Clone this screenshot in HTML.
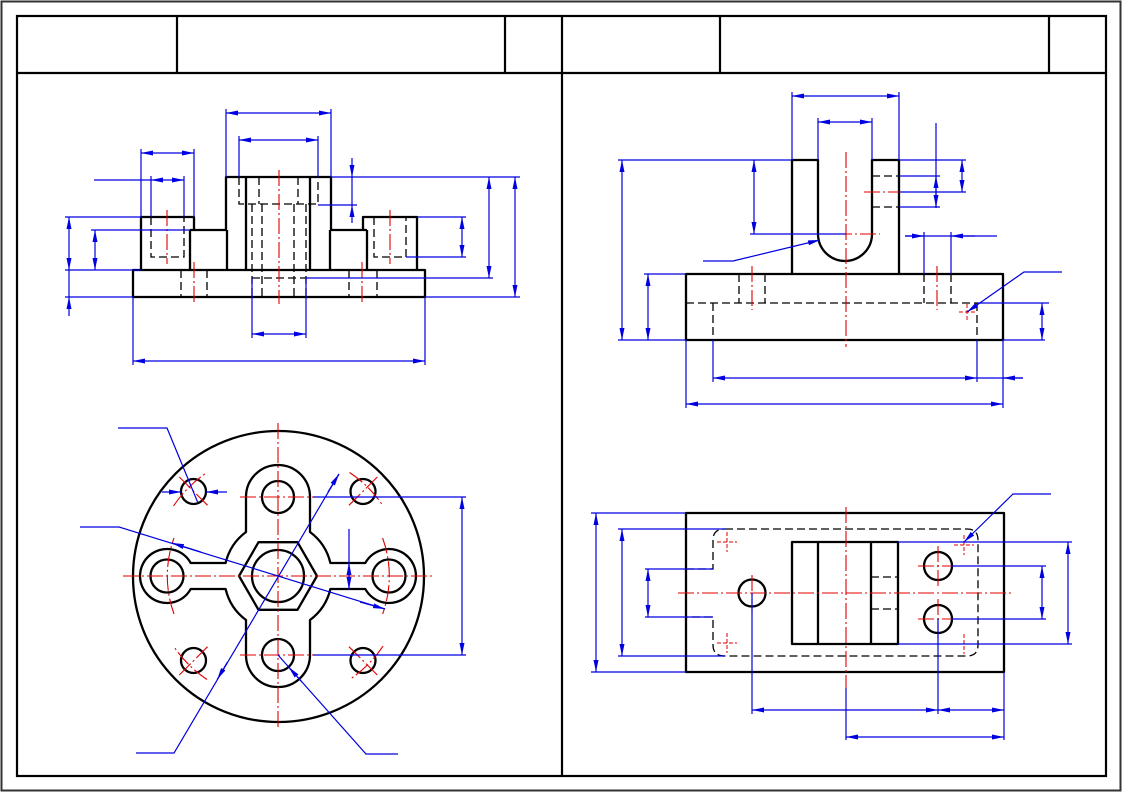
<!DOCTYPE html>
<html><head><meta charset="utf-8"><style>
html,body{margin:0;padding:0;background:#fff;}
svg{display:block;}
.k{stroke:#000;stroke-width:2.3;fill:none;stroke-linejoin:round}
.f{stroke:#000;stroke-width:2.2;fill:none}
.h{stroke:#000;stroke-width:1.3;stroke-dasharray:8 4;fill:none}
.c{stroke:#e00000;stroke-width:1.1;stroke-dasharray:16 3 2 3;fill:none}
.cs{stroke:#e00000;stroke-width:1;stroke-dasharray:4 2;fill:none}
.b{stroke:#0000e0;stroke-width:1.2;fill:none}
.ba{marker-start:url(#ar);marker-end:url(#ar)}
.be{marker-end:url(#ar)}
</style></head><body>
<svg width="1123" height="793" viewBox="0 0 1123 793" xmlns="http://www.w3.org/2000/svg">
<defs>
<marker id="ar" viewBox="0 0 12 5" refX="12" refY="2.5" markerWidth="12" markerHeight="5" markerUnits="userSpaceOnUse" orient="auto-start-reverse"><path d="M0,0L12,2.5L0,5z" fill="#0000e0"/></marker>
</defs>
<rect x="0" y="0" width="1123" height="793" fill="#fff"/>
<!-- frame -->
<rect x="1.5" y="1.5" width="1119" height="789" fill="none" stroke="#333" stroke-width="2"/>
<rect x="17" y="16" width="1089" height="760" class="f"/>
<path class="f" d="M17,73H1106M177,16V73M505,16V73M562,16V776M720,16V73M1049,16V73"/>

<!-- ============ TOP-LEFT VIEW ============ -->
<g>
<rect x="133" y="270" width="292" height="27" class="k"/>
<path class="k" d="M141,270V217H194V230M190,230V270M190,230H227M226,230V177H331V230M227,230V270M330,230V270M330,230H367M363,230V217H417V270M367,230V270M246,177V270M310,177V270"/>
<path class="h" d="M151,217V257H184V217M374,217V257H406V217M181,270V297M207,270V297M349,270V297M377,270V297M239,177V204H318V177M259,177V204M298,177V204M252,204V297M306,204V297M262,204V297M294,204V297M252,278H306"/>
<path class="c" d="M167,210V264M390,210V264M194,262V304M362,262V304M279,170V304"/>
<path class="b" d="M226,109V177M331,109V177M239,136V177M318,136V177M141,149V217M194,149V217M151,176V217M184,176V217M65,217H141M65,270H141M65,297H133M91,230H190M252,278V338M306,278V338M133,297V365M425,297V365M318,205H357M331,177H520M417,217H466M406,257H466M306,278H493M425,297H520M94,180H151M352,177V205"/>
<line class="b ba" x1="226" y1="113" x2="331" y2="113"/>
<line class="b ba" x1="239" y1="140" x2="318" y2="140"/>
<line class="b ba" x1="141" y1="153" x2="194" y2="153"/>
<line class="b ba" x1="151" y1="180" x2="184" y2="180"/>
<line class="b ba" x1="69" y1="217" x2="69" y2="270"/>
<line class="b be" x1="69" y1="316" x2="69" y2="297"/>
<line class="b" x1="69" y1="270" x2="69" y2="297"/>
<line class="b ba" x1="95" y1="230" x2="95" y2="270"/>
<line class="b ba" x1="252" y1="334" x2="306" y2="334"/>
<line class="b ba" x1="133" y1="361" x2="425" y2="361"/>
<line class="b be" x1="352" y1="158" x2="352" y2="177"/>
<line class="b be" x1="352" y1="223" x2="352" y2="205"/>
<line class="b ba" x1="462" y1="217" x2="462" y2="257"/>
<line class="b ba" x1="489" y1="177" x2="489" y2="278"/>
<line class="b ba" x1="515" y1="177" x2="515" y2="297"/>
</g>

<!-- ============ TOP-RIGHT VIEW ============ -->
<g>
<rect x="686" y="274" width="317" height="66" class="k"/>
<path class="k" d="M792,274V160H818V234A27,27 0 0 0 872,234V160H899V274"/>
<path class="h" d="M686,303H977M713,303V340M977,303V340M739,274V303M765,274V303M924,274V303M951,274V303M872,176H899M872,207H899"/>
<path class="c" d="M846,152V347M812,234H880M864,192H904M752,266V310M937,266V310"/>
<path class="cs" d="M959,312H975M967,304V320"/>
<path class="b" d="M792,92V160M899,92V160M818,118V160M872,118V160M618,160H792M618,340H686M750,234H846M644,274H686M713,340V382M977,340V382M1003,340V408M686,340V408M924,232V274M951,232V274M899,160H966M899,176H940M899,192H966M899,207H940M977,303H1049M1003,340H1045M977,378H1023M905,236H997M936,123V208"/>
<line class="b ba" x1="792" y1="96" x2="899" y2="96"/>
<line class="b ba" x1="818" y1="122" x2="872" y2="122"/>
<line class="b ba" x1="622" y1="160" x2="622" y2="340"/>
<line class="b ba" x1="754" y1="160" x2="754" y2="234"/>
<line class="b ba" x1="648" y1="274" x2="648" y2="340"/>
<line class="b ba" x1="713" y1="378" x2="977" y2="378"/>
<line class="b be" x1="1023" y1="378" x2="1003" y2="378"/>
<line class="b ba" x1="686" y1="404" x2="1003" y2="404"/>
<line class="b be" x1="905" y1="236" x2="924" y2="236"/>
<line class="b be" x1="975" y1="236" x2="951" y2="236"/>
<line class="b be" x1="936" y1="192" x2="936" y2="176"/>
<line class="b be" x1="936" y1="192" x2="936" y2="207"/>
<line class="b ba" x1="962" y1="160" x2="962" y2="192"/>
<path class="b be" d="M1062,272H1024L967,312"/>
<line class="b ba" x1="1042" y1="303" x2="1042" y2="340"/>
<path class="b be" d="M703,261H733L820,240"/>
</g>

<!-- ============ BOTTOM-LEFT VIEW ============ -->
<g>
<circle cx="278.5" cy="576.5" r="145.5" class="k"/>
<path class="k" d="M246,532V497A32,32 0 0 1 310,497V532A54,54 0 0 1 330.4,563H365.3A27,27 0 1 1 365.3,589H330.4A54,54 0 0 1 310,620V655A32,32 0 0 1 246,655V620A54,54 0 0 1 225.6,589H190.7A27,27 0 1 1 190.7,563H225.6A54,54 0 0 1 246,532Z"/>
<circle cx="278" cy="497" r="16" class="k"/>
<circle cx="278" cy="655" r="16" class="k"/>
<circle cx="167" cy="576" r="16.5" class="k"/>
<circle cx="389" cy="576" r="16.5" class="k"/>
<circle cx="278" cy="576" r="26" class="k"/>
<polygon class="k" points="317,576 297.5,542.2 258.5,542.2 239,576 258.5,609.8 297.5,609.8"/>
<circle cx="193.5" cy="491.5" r="12.5" class="k"/>
<circle cx="363" cy="491.5" r="12.5" class="k"/>
<circle cx="193.5" cy="660.5" r="12.5" class="k"/>
<circle cx="363" cy="660.5" r="12.5" class="k"/>
<path class="c" d="M278,423V730M123,576H432M240,497H317M240,655H317"/>
<path class="c" d="M174,614A111,111 0 0 1 174,538M382.6,538A111,111 0 0 1 382.6,614"/>
<path class="c" d="M207.6,505.3L177.9,475.6M173.5,506A120,120 0 0 1 207,472.5M349,505.3L378.7,475.6M349.6,472.5A120,120 0 0 1 383.1,506M207.6,646.7L177.9,676.4M207,679.5A120,120 0 0 1 173.5,646M349,646.7L378.7,676.4M383.1,646A120,120 0 0 1 349.6,679.5"/>
<path class="b" d="M118,428H167L198,503M80,527H119L385,609M136,753H174L339,474M398,754H366L278,655M313,497H466M313,655H466M349,529V590"/>
<line class="b be" x1="162" y1="492" x2="181" y2="492"/>
<line class="b be" x1="227" y1="492" x2="206" y2="492"/>
<line class="b be" x1="360" y1="602" x2="385" y2="609"/>
<line class="b be" x1="200.7" y1="551.9" x2="172" y2="543"/>
<line class="b be" x1="328" y1="492" x2="339" y2="474"/>
<line class="b be" x1="227.3" y1="662.3" x2="217.2" y2="679.5"/>
<line class="b be" x1="301.9" y1="682" x2="288.6" y2="667"/>
<line class="b ba" x1="462" y1="497" x2="462" y2="655"/>
<line class="b be" x1="349" y1="576" x2="349" y2="563"/>
<line class="b be" x1="349" y1="576" x2="349" y2="589"/>
</g>

<!-- ============ BOTTOM-RIGHT VIEW ============ -->
<g>
<rect x="686" y="513" width="318" height="159" class="k"/>
<rect x="792" y="542" width="106" height="102" class="k"/>
<path class="k" d="M818,542V644M871,542V644"/>
<circle cx="752" cy="593" r="13.5" class="k"/>
<circle cx="938" cy="566" r="14" class="k"/>
<circle cx="938" cy="619" r="14" class="k"/>
<path class="h" d="M725,529H967Q978,529 978,540V645Q978,656 967,656H725Q713,656 713,645V617H686M686,569H713V540Q713,529 725,529M871,577H898M871,609H898"/>
<path class="c" d="M678,593H1012M846,507V688M752,575V612M918,566H958M938,546V586M918,619H958M938,599V639"/>
<path class="cs" d="M717,542H737M727,532V552M717,643H737M727,633V653M954,545H974M964,535V555M954,644H974M964,634V654"/>
<path class="b" d="M591,513H686M591,672H686M618,529H725M618,656H725M645,569H713M645,617H713M752,593V714M938,619V714M1004,672V740M846,688V740M898,542H1072M898,644H1072M952,566H1046M952,619H1046"/>
<line class="b ba" x1="596" y1="513" x2="596" y2="672"/>
<line class="b ba" x1="622" y1="529" x2="622" y2="656"/>
<line class="b ba" x1="648" y1="569" x2="648" y2="617"/>
<line class="b ba" x1="752" y1="710" x2="938" y2="710"/>
<line class="b ba" x1="938" y1="710" x2="1004" y2="710"/>
<line class="b ba" x1="846" y1="737" x2="1004" y2="737"/>
<line class="b ba" x1="1068" y1="542" x2="1068" y2="644"/>
<line class="b ba" x1="1042" y1="566" x2="1042" y2="619"/>
<path class="b be" d="M1051,494H1013L964,542"/>
</g>
</svg>
</body></html>
